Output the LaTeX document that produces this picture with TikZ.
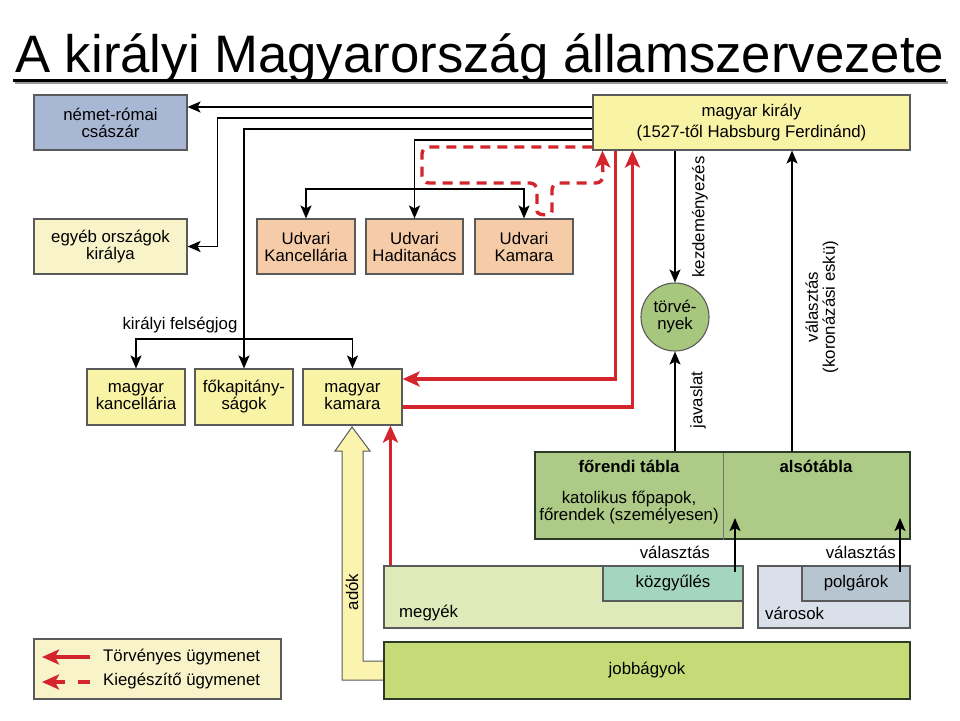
\documentclass[tikz,border=0pt]{standalone}
\usepackage{graphicx}
\usepackage{fontspec}
\setmainfont{Liberation Sans}
\usetikzlibrary{arrows.meta}
\definecolor{boxline}{HTML}{5A5A5A}
\definecolor{nemetc}{HTML}{A8B8D4}
\definecolor{paleyel}{HTML}{F8F3C9}
\definecolor{peach}{HTML}{F6CBA8}
\definecolor{kyellow}{HTML}{F9F3A6}
\definecolor{torvc}{HTML}{A8C77E}
\definecolor{parc}{HTML}{ADCB86}
\definecolor{pardark}{HTML}{2E3A28}
\definecolor{megyc}{HTML}{DEEABA}
\definecolor{kozgyc}{HTML}{A4D5BF}
\definecolor{varosc}{HTML}{D9E0EA}
\definecolor{polgc}{HTML}{B7C5D1}
\definecolor{jobbc}{HTML}{C6DA78}
\definecolor{adoc}{HTML}{FAF4AE}
\definecolor{redc}{HTML}{D3252B}
\newcommand{\lblfont}{\fontsize{16.8}{17}\selectfont}
\newcommand{\titletext}{\resizebox{929pt}{!}{\fontsize{52}{52}\selectfont A királyi Magyarország államszervezete}}
\begin{document}
\begin{tikzpicture}[x=1pt,y=-1pt,
  box/.style={draw=boxline, line width=1.1pt, inner sep=0pt, align=center, font=\lblfont},
  lbl/.style={inner sep=0pt, font=\lblfont},
  blk/.style={line width=1.8pt, -{Stealth[length=13pt,width=11pt,inset=3pt]}},
  redarrow/.style={draw=redc, line width=3.4pt, -{Stealth[length=17pt,width=15pt,inset=4pt]}},
  reddash/.style={redarrow, dash pattern=on 10pt off 7pt}]
\useasboundingbox (0,0) rectangle (960,720);
\fill[white] (0,0) rectangle (960,720);

% title
\node[anchor=base west, inner sep=0pt] (title) at (15,72) {\titletext};
\draw[line width=3pt, black!40] (15,82) -- (948,82);
\draw[line width=3pt] (13,80) -- (946,80);

% top boxes
\node[box, fill=nemetc, minimum width=153pt, minimum height=55pt] (nemet) at (110.5,122.5) {német-római\\császár};
\node[box, fill=paleyel, minimum width=153pt, minimum height=55pt] (egyeb) at (110.5,246.5) {egyéb országok\\királya};
\node[box, fill=peach, minimum width=98pt, minimum height=55pt] (udk) at (306,246.5) {Udvari\\Kancellária};
\node[box, fill=peach, minimum width=97pt, minimum height=55pt] (udh) at (414.5,246.5) {Udvari\\Haditanács};
\node[box, fill=peach, minimum width=98pt, minimum height=55pt] (udkam) at (524,246.5) {Udvari\\Kamara};
\node[box, fill=kyellow, minimum width=317pt, minimum height=55pt, font=\fontsize{16.8}{21}\selectfont] (kiraly) at (751.5,122.5) {magyar király\\(1527-től Habsburg Ferdinánd)};

% second row
\node[box, fill=kyellow, minimum width=98pt, minimum height=56pt] (mkanc) at (136,397) {magyar\\kancellária};
\node[box, fill=kyellow, minimum width=98pt, minimum height=56pt] (fokap) at (244,397) {főkapitány-\\ságok};
\node[box, fill=kyellow, minimum width=99pt, minimum height=56pt] (mkam) at (352.5,397) {magyar\\kamara};

% laws
\node[circle, draw=boxline, line width=1.1pt, fill=torvc, minimum size=68pt, inner sep=0pt, align=center, font=\lblfont] (torv) at (675,317) {törvé-\\nyek};

% parliament
\node[draw=pardark, line width=2pt, fill=parc, minimum width=375pt, minimum height=87pt, inner sep=0pt] (par) at (722.5,495.5) {};
\coordinate (pdiv) at (723,453);
\draw[black!55, line width=0.7pt] (pdiv) -- (pdiv |- par.south);
\node[lbl, font=\lblfont\bfseries] (fotxt) at (629,466) {főrendi tábla};
\node[lbl, font=\lblfont\bfseries] (alsotxt) at (816,466) {alsótábla};
\node[lbl, align=center] (katol) at (629,508) {katolikus főpapok,\\főrendek (személyesen)};

% adók arrow
\draw[draw=boxline, line width=1pt, fill=adoc] (352,427) -- (370,451) -- (363,451) -- (363,661) -- (384,661) -- (384,680) -- (342,680) -- (342,451) -- (335,451) -- cycle;
\node[lbl, rotate=90] (ado) at (352,592) {adók};

% bottom boxes
\node[box, fill=megyc, minimum width=359pt, minimum height=62pt] (megyek) at (563.5,597) {};
\node[box, fill=kozgyc, minimum width=140pt, minimum height=35pt] (kozgy) at (673,583.5) {közgyűlés};
\node[lbl, anchor=west] (megytxt) at (399,613) {megyék};
\node[box, fill=varosc, minimum width=152pt, minimum height=62pt] (varos) at (834,597) {};
\node[box, fill=polgc, minimum width=108pt, minimum height=35pt] (polg) at (856,583.5) {polgárok};
\node[lbl, anchor=west] (vartxt) at (765,613) {városok};
\node[box, draw=pardark, line width=1.6pt, fill=jobbc, minimum width=526pt, minimum height=57pt] (jobb) at (647,670.5) {jobbágyok};

% legend
\node[box, fill=paleyel, minimum width=247pt, minimum height=60pt] (leg) at (157.5,669) {};
\coordinate (l1) at (90,657);
\coordinate (l2) at (90,682);
\draw[redarrow] (l1) -- ++(-48,0);
\draw[redarrow, dash pattern=on 12pt off 13pt] (l2) -- ++(-48,0);
\node[lbl, anchor=west] (lt1) at (103,657) {Törvényes ügymenet};
\node[lbl, anchor=west] (lt2) at (103,681) {Kiegészítő ügymenet};

% black connectors from the king
\draw[blk] ([yshift=15.5pt]kiraly.west) -- ([yshift=15.5pt]nemet.east);
\draw[blk] ([yshift=4.5pt]kiraly.west) -- ++(-375,0) |- (egyeb.east);
\draw[blk] ([yshift=-6.5pt]kiraly.west) -| (fokap.north);
\coordinate (fj) at (244,339);
\draw[blk] (fj) -| (mkanc.north);
\draw[blk] (fj) -| (mkam.north);
\draw[blk] ([yshift=-17.5pt]kiraly.west) -| (udh.north);
\coordinate (ub) at (414.5,189);
\draw[blk] (ub) -| (udk.north);
\draw[blk] (ub) -| (udkam.north);
\node[lbl] (felseg) at (180,325) {királyi felségjog};

% dashed loop
\draw[reddash, rounded corners=7pt] ([yshift=-24.5pt]kiraly.west) -- (422,147) -- (422,183) -- (537,183) -- (537,204) .. controls (537,216) and (552,216) .. (552,204) -- (552,183) -- (603,183) -- ([xshift=10pt]kiraly.south west);

% red connectors
\draw[redarrow] ([xshift=23pt]kiraly.south west) |- ([yshift=18pt]mkam.east);
\draw[redarrow] ([yshift=-10pt]mkam.east) -| ([xshift=40pt]kiraly.south west);
\coordinate (rc) at ([xshift=7pt]megyek.north west);
\draw[redarrow] (rc) -- (rc |- mkam.south);

% laws connectors
\draw[blk] (kiraly.south -| torv) -- (torv.north);
\draw[blk] (par.north -| torv) -- (torv.south);
\node[lbl, rotate=90] (kezd) at (700,217) {kezdeményezés};
\node[lbl, rotate=90] (jav) at (698,400) {javaslat};
\coordinate (vk) at (792,452);
\draw[blk] (vk) -- (vk |- kiraly.south);
\node[lbl, rotate=90, align=center] (valk) at (822,307) {választás\\(koronázási eskü)};

% elections
\coordinate (e1) at (735,572);
\coordinate (e2) at (900,572);
\draw[blk] (e1) -- (e1 |- 0,518);
\draw[blk] (e2) -- (e2 |- 0,518);
\node[lbl, anchor=east] (val1) at (710,552) {választás};
\node[lbl, anchor=east] (val2) at (896,552) {választás};
\end{tikzpicture}
\end{document}
